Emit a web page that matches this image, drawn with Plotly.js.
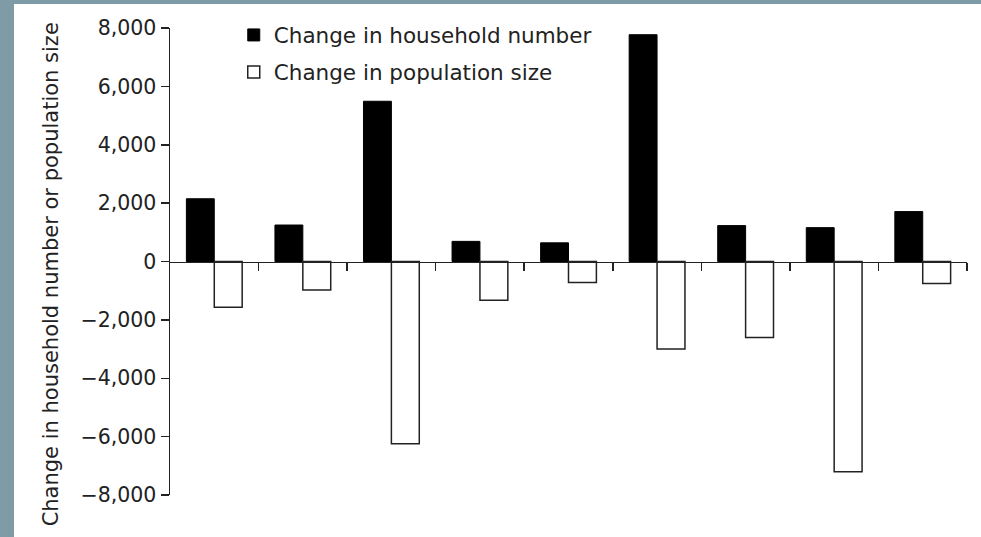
<!DOCTYPE html>
<html>
<head>
<meta charset="utf-8">
<script src="https://cdn.plot.ly/plotly-3.0.1.min.js"></script>
<style>
  html, body { margin: 0; padding: 0; background: #7e9ba6; width: 981px; height: 537px; overflow: hidden; }
  #chart { position: absolute; left: 14px; top: 4px; width: 967px; height: 533px; background: #fff; }
</style>
</head>
<body>
<div id="chart"></div>
<script>
// Data
var groups = [0, 1, 2, 3, 4, 5, 6, 7, 8];
var householdChange = [2150, 1250, 5490, 690, 640, 7770, 1230, 1160, 1710];
var populationChange = [-1570, -980, -6240, -1330, -720, -3000, -2600, -7200, -750];
var seriesNames = ['Change in household number', 'Change in population size'];
var yTicks = [-8000, -6000, -4000, -2000, 0, 2000, 4000, 6000, 8000];
var boundaryTicks = groups.map(function (g) { return g + 0.5; });
var yTitle = 'Change in household number or population size';

var FONT = 'DejaVu Sans, sans-serif';
var INK = '#222222';

var traces = [
  {
    type: 'bar', x: groups, y: householdChange, name: seriesNames[0],
    legendgroup: 'a',
    marker: { color: '#000000', line: { color: '#000000', width: 1 } },
    hoverinfo: 'none'
  },
  {
    type: 'bar', x: groups, y: populationChange, name: seriesNames[1],
    legendgroup: 'b',
    marker: { color: '#ffffff', line: { color: INK, width: 1.5 } },
    hoverinfo: 'none'
  }
];

var layout = {
  width: 967, height: 533,
  margin: { l: 156, r: 14, t: 24, b: 42, pad: 0, autoexpand: false },
  paper_bgcolor: '#ffffff', plot_bgcolor: '#ffffff',
  font: { family: FONT, color: INK, size: 20.5 },
  barmode: 'group', bargap: 0.37, bargroupgap: 0,
  showlegend: true,
  legend: {
    x: 0.08, y: 1.029, xanchor: 'left', yanchor: 'top',
    bgcolor: 'rgba(0,0,0,0)', borderwidth: 0,
    font: { family: FONT, size: 21.5, color: INK },
    traceorder: 'grouped', tracegroupgap: 6
  },
  xaxis: {
    range: [-0.5, 8.5], anchor: 'free', position: 0.5,
    showline: true, linecolor: INK, linewidth: 1.5,
    showgrid: false, zeroline: false,
    tickmode: 'array', tickvals: boundaryTicks, showticklabels: false,
    ticks: 'outside', ticklen: 8, tickwidth: 1.5, tickcolor: INK,
    fixedrange: true
  },
  yaxis: {
    range: [-8000, 8000],
    showline: true, linecolor: INK, linewidth: 1.5,
    showgrid: false, zeroline: false,
    tickmode: 'array', tickvals: yTicks, tickformat: ',d',
    ticks: 'outside', ticklen: 8, tickwidth: 1.5, tickcolor: INK,
    tickfont: { family: FONT, size: 20.5, color: INK },
    fixedrange: true
  },
  annotations: [
    {
      text: yTitle, xref: 'paper', yref: 'paper',
      x: -0.149, y: 0.473, xanchor: 'center', yanchor: 'middle',
      textangle: -90, showarrow: false,
      font: { family: FONT, size: 21, color: INK }
    }
  ]
};

Plotly.newPlot('chart', traces, layout, { displayModeBar: false, staticPlot: true });
</script>
</body>
</html>
